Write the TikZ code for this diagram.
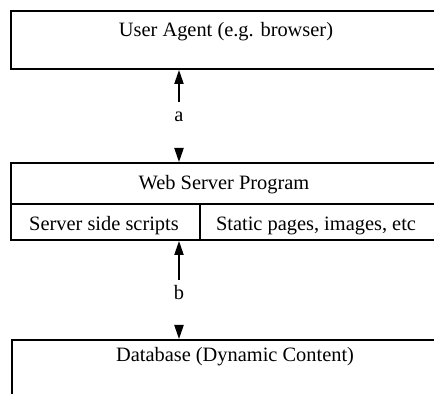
\documentclass[tikz,border=0pt]{standalone}
\usepackage{fontspec}
\setmainfont{Liberation Serif}
\usetikzlibrary{arrows.meta}
\tikzset{
  box/.style={draw, line width=1pt, inner sep=0pt, anchor=north west},
  lbl/.style={anchor=base, inner sep=0pt, font=\fontsize{10.2}{12}\selectfont},
  link/.style={line width=0.8pt, -{Triangle[length=7pt,width=4.6pt]}}
}
\begin{document}
\begin{tikzpicture}[x=0.5pt,y=-0.5pt]
  \useasboundingbox (0,0) rectangle (434,394);
  \clip (0,0) rectangle (434,394);
  % boxes
  \node[box, minimum width=220pt, minimum height=29pt] (agent) at (10,10) {};
  \node[box, minimum width=220pt, minimum height=20.5pt] (server) at (10,162) {};
  \node[box, minimum width=94.5pt, minimum height=18pt] (scripts) at (10,203) {};
  \node[box, minimum width=125.5pt, minimum height=18pt] (static) at (199,203) {};
  \node[box, minimum width=220pt, minimum height=50pt] (db) at (11,339) {};
  % texts
  \node[lbl] (agenttxt) at (226,37) {User Agent (e.g. browser)};
  \node[lbl] (servertxt) at (224,190) {Web Server Program};
  \node[lbl] (scriptstxt) at (104,231) {Server side scripts};
  \node[lbl] (statictxt) at (316,231) {Static pages, images, etc};
  \node[lbl] (dbtxt) at (235,362) {Database (Dynamic Content)};
  \node[lbl] (lbla) at (179,122) {a};
  \node[lbl] (lblb) at (179,300) {b};
  % links
  \coordinate (a1) at (179,102);
  \coordinate (a2) at (179,148);
  \coordinate (b1) at (179,280);
  \coordinate (b2) at (179,325);
  \draw[link] (a1) -- (a1 |- agent.south);
  \draw[link] (a2) -- (a2 |- server.north);
  \draw[link] (b1) -- (b1 |- scripts.south);
  \draw[link] (b2) -- (b2 |- db.north);
\end{tikzpicture}
\end{document}
